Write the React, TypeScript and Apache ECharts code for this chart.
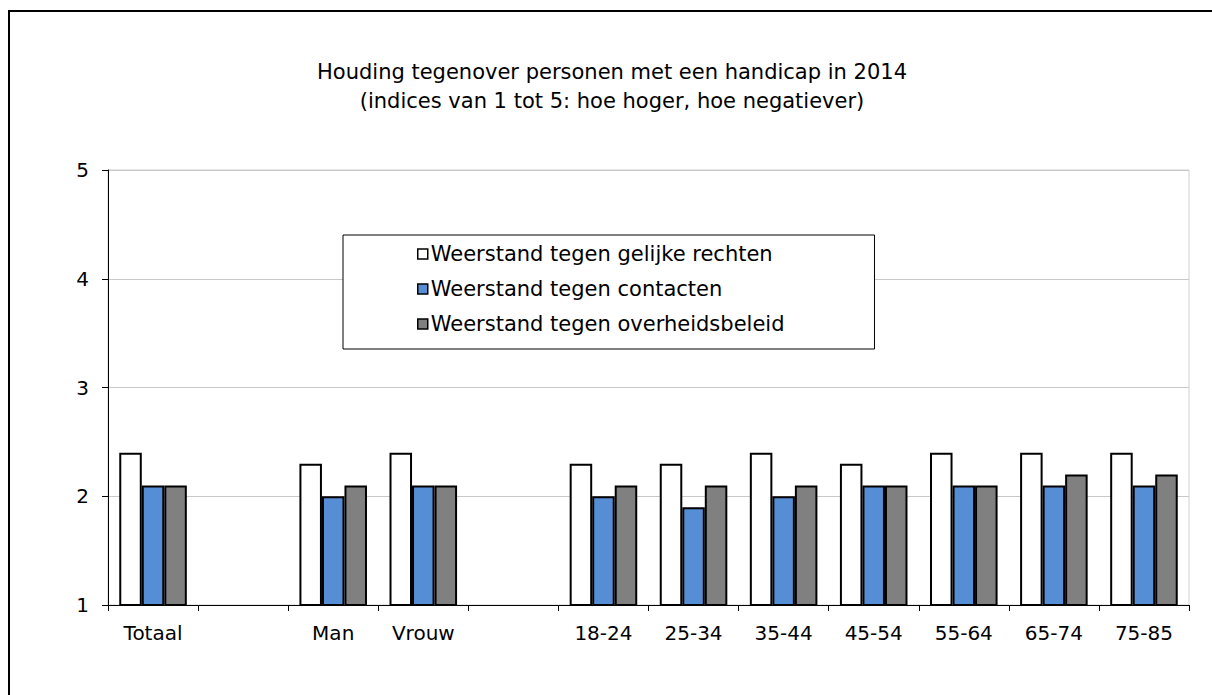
import React, { useEffect, useRef } from "react";
import * as echarts from "echarts";

const titleLines = [
  "Houding tegenover personen met een handicap in 2014",
  "(indices van 1 tot 5: hoe hoger, hoe negatiever)",
];
const categories = ["Totaal", "", "Man", "Vrouw", "", "18-24", "25-34", "35-44", "45-54", "55-64", "65-74", "75-85"];
const seriesNames = [
  "Weerstand tegen gelijke rechten",
  "Weerstand tegen contacten",
  "Weerstand tegen overheidsbeleid",
];
const gelijkeRechten = [2.4, null, 2.3, 2.4, null, 2.3, 2.3, 2.4, 2.3, 2.4, 2.4, 2.4];
const contacten = [2.1, null, 2.0, 2.1, null, 2.0, 1.9, 2.0, 2.1, 2.1, 2.1, 2.1];
const overheidsbeleid = [2.1, null, 2.1, 2.1, null, 2.1, 2.1, 2.1, 2.1, 2.1, 2.2, 2.2];
const seriesColors = ["#ffffff", "#558ed5", "#808080"];
const yTicks = [1, 2, 3, 4, 5];

const FONT = "DejaVu Sans";

export default function App() {
  const ref = useRef<HTMLDivElement>(null);
  useEffect(() => {
    if (!ref.current) return;
    const chart = echarts.init(ref.current, null, { renderer: "svg" });
    const data = [gelijkeRechten, contacten, overheidsbeleid];
    chart.setOption({
      animation: false,
      backgroundColor: "#ffffff",
      textStyle: { fontFamily: FONT, color: "#000" },
      graphic: [
        {
          type: "rect",
          shape: { x: 9, y: 11, width: 1230, height: 720 },
          style: { fill: "none", stroke: "#000", lineWidth: 2 },
          silent: true,
          z: 100,
        },
        {
          type: "text",
          x: 612,
          y: 57,
          style: {
            text: titleLines.join("\n"),
            font: `21px "${FONT}"`,
            fill: "#000",
            align: "center",
            verticalAlign: "top",
            lineHeight: 29,
          },
        },
      ],
      legend: {
        orient: "vertical",
        left: 343,
        top: 235,
        backgroundColor: "#fff",
        borderColor: "#000",
        borderWidth: 1,
        padding: [8, 90, 14, 74],
        itemGap: 13,
        itemWidth: 10,
        itemHeight: 10,
        icon: "rect",
        textStyle: { fontFamily: FONT, fontSize: 21, color: "#000", lineHeight: 22, padding: [0, 0, 0, -2] },
        data: seriesNames.map((n, i) => ({
          name: n,
          itemStyle: { color: seriesColors[i], borderColor: "#000", borderWidth: 1.5 },
        })),
        z: 10,
      },
      grid: {
        left: 108,
        right: 23,
        top: 170,
        bottom: 90,
        show: true,
        borderColor: "#d0d0d0",
        borderWidth: 1,
        backgroundColor: "transparent",
      },
      xAxis: {
        type: "category",
        data: categories,
        axisLine: { show: true, lineStyle: { color: "#000", width: 1 } },
        axisTick: { show: true, alignWithLabel: false, length: 6, lineStyle: { color: "#000" } },
        axisLabel: { fontFamily: FONT, fontSize: 20, color: "#000", margin: 18, interval: 0 },
        splitLine: { show: false },
      },
      yAxis: {
        type: "value",
        min: 1,
        max: 5,
        interval: 1,
        axisLine: { show: true, lineStyle: { color: "#000", width: 1 } },
        axisTick: { show: true, length: 6, lineStyle: { color: "#000" } },
        axisLabel: {
          fontFamily: FONT,
          fontSize: 20,
          color: "#000",
          margin: 19,
          formatter: (v: number) => (yTicks.includes(v) ? String(v) : ""),
        },
        splitLine: { show: true, lineStyle: { color: "#c8c8c8", width: 1 } },
      },
      series: seriesNames.map((n, i) => ({
        name: n,
        type: "bar",
        data: data[i],
        barGap: "0%",
        barCategoryGap: "25%",
        itemStyle: { color: seriesColors[i], borderColor: "#000", borderWidth: 2 },
      })),
    });
    return () => chart.dispose();
  }, []);
  return (
    <div
      ref={ref}
      style={{ position: "absolute", left: 0, top: 0, width: 1212, height: 695 }}
    />
  );
}
